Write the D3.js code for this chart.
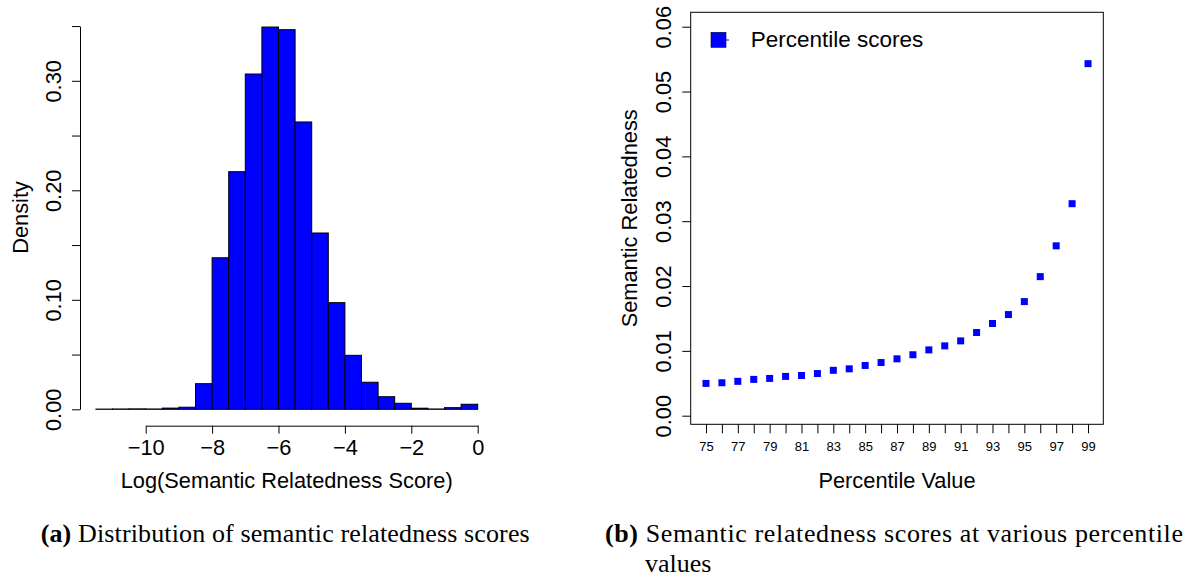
<!DOCTYPE html>
<html>
<head>
<meta charset="utf-8">
<script src="https://cdn.jsdelivr.net/npm/d3@7"></script>
<style>
  body { margin: 0; background: #fff; }
  text { font-family: "Liberation Sans", Arial, Helvetica, sans-serif; fill: #000; }
  .caption { font-family: "Liberation Serif", "Times New Roman", serif; font-size: 26px; }
</style>
</head>
<body>
<div id="chart"></div>
<script>
// histogram: lower edge of each 0.5-wide bin and its density
var binLower = [-11.5, -11, -10.5, -10, -9.5, -9, -8.5, -8, -7.5, -7, -6.5, -6,
                -5.5, -5, -4.5, -4, -3.5, -3, -2.5, -2, -1.5, -1, -0.5];
var density = [0.0002, 0.0003, 0.0004, 0.0003, 0.0011, 0.0019, 0.0234, 0.1384, 0.217, 0.3062, 0.3491, 0.3467,
               0.2624, 0.161, 0.0974, 0.0493, 0.0247, 0.0115, 0.0055, 0.001, 0.0003, 0.0015, 0.0046];
var binWidth = 0.5;
var histXTicks = [-10, -8, -6, -4, -2, 0];
var histYTicks = [0, 0.05, 0.1, 0.15, 0.2, 0.25, 0.3, 0.35];

// percentile scatter
var percentiles = [75, 76, 77, 78, 79, 80, 81, 82, 83, 84, 85, 86, 87,
                   88, 89, 90, 91, 92, 93, 94, 95, 96, 97, 98, 99];
var relatedness = [0.00498, 0.00508, 0.0053, 0.0056, 0.00575, 0.00606, 0.0062, 0.0065, 0.007, 0.00723, 0.00775, 0.0082, 0.00877,
                   0.0094, 0.01015, 0.01077, 0.01154, 0.01283, 0.01422, 0.0156, 0.0176, 0.02145, 0.0262, 0.0327, 0.0543];
var scatterYTicks = [0, 0.01, 0.02, 0.03, 0.04, 0.05, 0.06];

var width = 1193, height = 576;
var fontSize = 21.8;

var svg = d3.select("#chart").append("svg")
    .attr("width", width)
    .attr("height", height);

function styleAxis(g, size) {
    g.attr("font-family", null).attr("font-size", size);
    g.selectAll("line").attr("stroke", "#000");
    g.selectAll("path").attr("stroke", "#000");
    g.selectAll("text").attr("fill", "#000");
}

// rotate y tick labels like R does (las = 0)
function rotateLabels(g, offset) {
    g.selectAll(".tick text")
        .attr("x", 0).attr("y", 0).attr("dy", null)
        .attr("text-anchor", "middle")
        .attr("transform", "translate(" + offset + ",0) rotate(-90)");
}

// ---------- (a) histogram ----------
var hx = d3.scaleLinear().domain([-10, 0]).range([145.7, 477.7]);
var hy = d3.scaleLinear().domain([0, 0.35]).range([409.3, 26.05]);

var histG = svg.append("g").attr("class", "hist");

histG.selectAll(".bar")
    .data(binLower)
    .enter().append("rect")
    .attr("class", "bar")
    .attr("x", function(d) { return hx(d); })
    .attr("width", function(d) { return hx(d + binWidth) - hx(d); })
    .attr("y", function(d, i) { return hy(density[i]); })
    .attr("height", function(d, i) { return hy(0) - hy(density[i]); })
    .attr("fill", "#0000ff")
    .attr("stroke", "#000")
    .attr("stroke-width", 1);

histG.append("g")
    .attr("transform", "translate(0,425.7)")
    .call(d3.axisBottom(hx).tickValues(histXTicks).tickSize(8).tickSizeOuter(0).tickPadding(6)
        .tickFormat(d3.format("d")))
    .call(styleAxis, fontSize);

histG.append("g")
    .attr("transform", "translate(80,0)")
    .call(d3.axisLeft(hy).tickValues(histYTicks).tickSize(8).tickSizeOuter(0)
        .tickFormat(function(d, i) { return i % 2 ? "" : d3.format(".2f")(d); }))
    .call(styleAxis, fontSize)
    .call(rotateLabels, -19.2);

histG.append("text")
    .attr("x", 286.7)
    .attr("y", 488)
    .attr("text-anchor", "middle")
    .style("font-size", fontSize + "px")
    .text("Log(Semantic Relatedness Score)");

histG.append("text")
    .attr("transform", "translate(27.7,217.5) rotate(-90)")
    .attr("text-anchor", "middle")
    .style("font-size", fontSize + "px")
    .text("Density");

// ---------- (b) scatter ----------
var sx = d3.scaleLinear().domain([74.04, 99.96]).range([690.7, 1103.3]);
var sy = d3.scaleLinear().domain([0, 0.06]).range([415.7, 26.7]);

var scatG = svg.append("g").attr("class", "scatter");

scatG.append("g")
    .attr("transform", "translate(0,424.3)")
    .call(d3.axisBottom(sx).tickValues(percentiles).tickSize(9).tickSizeOuter(0).tickPadding(8)
        .tickFormat(function(d) { return d % 2 ? d : ""; }))
    .call(styleAxis, 13)
    .call(function(g) { g.select(".domain").remove(); });

scatG.append("g")
    .attr("transform", "translate(690.7,0)")
    .call(d3.axisLeft(sy).tickValues(scatterYTicks).tickSize(8.4).tickSizeOuter(0)
        .tickFormat(d3.format(".2f")))
    .call(styleAxis, fontSize)
    .call(function(g) { g.select(".domain").remove(); })
    .call(rotateLabels, -19.9);

scatG.append("rect")
    .attr("x", sx.range()[0])
    .attr("y", 12.3)
    .attr("width", sx.range()[1] - sx.range()[0])
    .attr("height", 424.3 - 12.3)
    .attr("fill", "none")
    .attr("stroke", "#000")
    .attr("stroke-width", 1);

var pt = 7;
scatG.selectAll(".pt")
    .data(percentiles)
    .enter().append("rect")
    .attr("class", "pt")
    .attr("x", function(d) { return sx(d) - pt / 2; })
    .attr("y", function(d, i) { return sy(relatedness[i]) - pt / 2; })
    .attr("width", pt)
    .attr("height", pt)
    .attr("fill", "#0000ff");

// legend
var legend = scatG.append("g").attr("transform", "translate(711,32.3)");
legend.append("line")
    .attr("x1", 7).attr("x2", 18).attr("y1", 7.7).attr("y2", 7.7)
    .attr("stroke", "#0000ff").attr("stroke-width", 1);
legend.append("rect")
    .attr("width", 15).attr("height", 15)
    .attr("fill", "#0000ff")
    .attr("stroke", "#000033").attr("stroke-width", 0.6);
legend.append("text")
    .attr("x", 39.7)
    .attr("y", 14.9)
    .style("font-size", "22.5px")
    .text("Percentile scores");

scatG.append("text")
    .attr("x", 897)
    .attr("y", 488)
    .attr("text-anchor", "middle")
    .style("font-size", fontSize + "px")
    .text("Percentile Value");

scatG.append("text")
    .attr("transform", "translate(637,218.3) rotate(-90)")
    .attr("text-anchor", "middle")
    .style("font-size", fontSize + "px")
    .text("Semantic Relatedness");

// ---------- captions ----------
var capA = svg.append("text").attr("class", "caption").attr("x", 40.7).attr("y", 541.7)
    .attr("textLength", 489).attr("lengthAdjust", "spacing");
capA.append("tspan").style("font-weight", "bold").text("(a)");
capA.append("tspan").text(" Distribution of semantic relatedness scores");

var capB = svg.append("text").attr("class", "caption").attr("x", 605).attr("y", 541.7)
    .attr("textLength", 578).attr("lengthAdjust", "spacing");
capB.append("tspan").style("font-weight", "bold").text("(b)");
capB.append("tspan").text(" Semantic relatedness scores at various percentile");

svg.append("text").attr("class", "caption").attr("x", 645).attr("y", 571.5).text("values");
</script>
</body>
</html>
